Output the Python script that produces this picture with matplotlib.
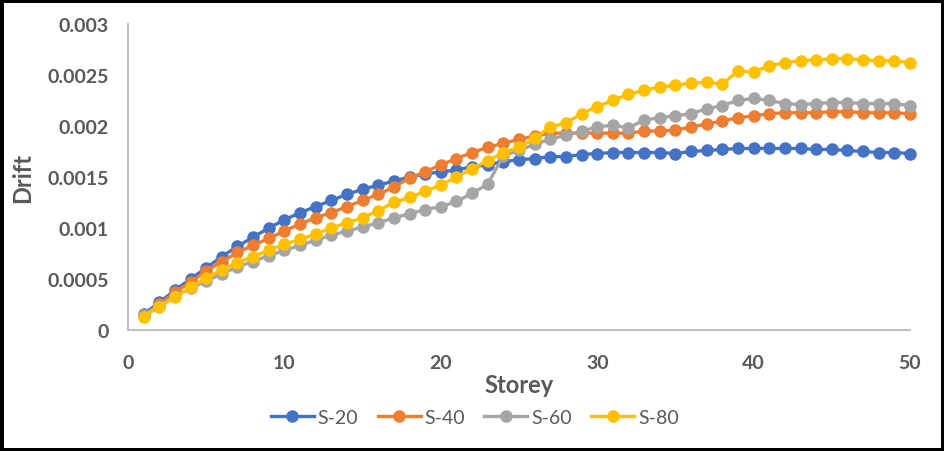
import numpy as np
import matplotlib.pyplot as plt

storey = np.arange(1, 51)

s20 = [0.000155, 0.00027, 0.00039, 0.0005, 0.00061, 0.00072, 0.00082, 0.00091, 0.001, 0.00108,
       0.00115, 0.00121, 0.00127, 0.00133, 0.00138, 0.00142, 0.00146, 0.0015, 0.00153, 0.00155,
       0.00157, 0.0016, 0.00162, 0.00165, 0.00167, 0.00168, 0.0017, 0.0017, 0.00172, 0.00173,
       0.00174, 0.00174, 0.00174, 0.00174, 0.00173, 0.00175, 0.00176, 0.00177, 0.00178, 0.00178,
       0.00178, 0.00178, 0.00178, 0.00177, 0.00177, 0.00176, 0.00175, 0.00174, 0.00174, 0.00173]

s40 = [0.00014, 0.00025, 0.00037, 0.00047, 0.00058, 0.00067, 0.00076, 0.00083, 0.0009, 0.00097,
       0.00104, 0.0011, 0.00115, 0.00121, 0.00127, 0.00133, 0.0014, 0.00149, 0.00155, 0.00162,
       0.00168, 0.00174, 0.00179, 0.00183, 0.00187, 0.0019, 0.00193, 0.00193, 0.00193, 0.00193,
       0.00193, 0.00193, 0.00195, 0.00195, 0.00196, 0.00199, 0.00202, 0.00205, 0.00208, 0.0021,
       0.00212, 0.00213, 0.00213, 0.00213, 0.00214, 0.00214, 0.00213, 0.00213, 0.00213, 0.00212]

s60 = [0.00015, 0.00024, 0.00033, 0.00041, 0.00048, 0.00055, 0.00062, 0.00067, 0.00073, 0.00078,
       0.00083, 0.00088, 0.00093, 0.00097, 0.00101, 0.00105, 0.0011, 0.00114, 0.00118, 0.00121,
       0.00126, 0.00134, 0.00143, 0.00171, 0.00176, 0.00182, 0.00187, 0.00191, 0.00195, 0.00199,
       0.00201, 0.00198, 0.00206, 0.00208, 0.0021, 0.00212, 0.00217, 0.0022, 0.00225, 0.00227,
       0.00225, 0.00222, 0.00221, 0.00222, 0.00223, 0.00223, 0.00222, 0.00222, 0.00222, 0.0022]

s80 = [0.00013, 0.00023, 0.00032, 0.00042, 0.00051, 0.00059, 0.00066, 0.00072, 0.00078, 0.00084,
       0.00089, 0.00094, 0.001, 0.00105, 0.0011, 0.00117, 0.00125, 0.0013, 0.00136, 0.00142,
       0.0015, 0.00158, 0.00166, 0.00174, 0.00179, 0.00188, 0.00199, 0.00203, 0.00212, 0.00219,
       0.00225, 0.00231, 0.00235, 0.00238, 0.0024, 0.00242, 0.00243, 0.00241, 0.00254, 0.00253,
       0.00259, 0.00262, 0.00264, 0.00265, 0.00266, 0.00266, 0.00265, 0.00264, 0.00264, 0.00262]

series_names = ['S-20', 'S-40', 'S-60', 'S-80']
colors = ['#4472C4', '#ED7D31', '#A5A5A5', '#FFC000']
y_ticks = [0, 0.0005, 0.001, 0.0015, 0.002, 0.0025, 0.003]
y_labels = ['0', '0.0005', '0.001', '0.0015', '0.002', '0.0025', '0.003']
x_ticks = [0, 10, 20, 30, 40, 50]

plt.rcParams['font.family'] = ['Lato', 'DejaVu Sans']
txt = '#595959'

fig = plt.figure(figsize=(9.44, 4.52), dpi=100)
fig.patch.set_edgecolor('black')
fig.patch.set_linewidth(5)
ax = fig.add_axes([0.1356, 0.2677, 0.8284, 0.677])

for vals, name, c in zip([s20, s40, s60, s80], series_names, colors):
    ax.plot(storey, vals, '-o', color=c, lw=2.4, ms=8, label=name, clip_on=False)

ax.set_xlim(0, 50)
ax.set_ylim(0, 0.003)
ax.set_xticks(x_ticks)
ax.set_yticks(y_ticks)
ax.set_yticklabels(y_labels)
ax.tick_params(length=0, labelsize=14, labelcolor=txt)
ax.tick_params(axis='x', pad=17)
ax.tick_params(axis='y', pad=14)
for lab in ax.get_xticklabels() + ax.get_yticklabels():
    lab.set_fontweight('bold')

for s in ['top', 'right']:
    ax.spines[s].set_visible(False)
for s in ['left', 'bottom']:
    ax.spines[s].set_color('#BFBFBF')
    ax.spines[s].set_linewidth(1.5)

ax.set_xlabel('Storey', fontsize=17, fontweight='bold', color=txt, labelpad=2)
ax.set_ylabel('Drift', fontsize=17, fontweight='bold', color=txt)
ax.yaxis.set_label_coords(-0.12, 0.5)

fig.legend(loc='center', bbox_to_anchor=(0.503, 0.075), ncol=4, frameon=False,
           fontsize=14, labelcolor=txt, handlelength=2.2, columnspacing=1.0,
           handletextpad=0.2)

plt.savefig('out.png', dpi=100, edgecolor=fig.get_edgecolor())
